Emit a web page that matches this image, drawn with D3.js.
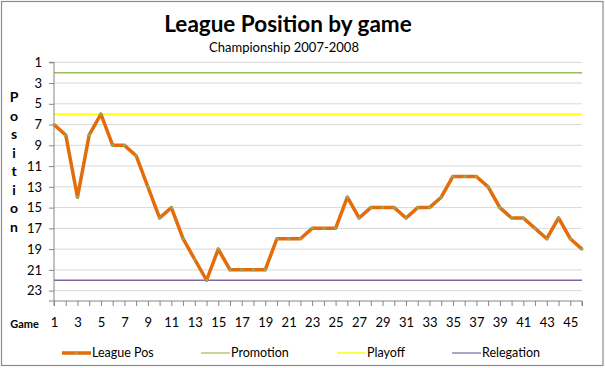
<!DOCTYPE html>
<html><head><meta charset="utf-8">
<script src="https://cdn.jsdelivr.net/npm/d3@7/dist/d3.min.js"></script>
<style>body{margin:0;background:#fff}svg{display:block}text{font-family:Lato,"Open Sans",sans-serif}</style>
</head><body>
<svg id="c" width="605" height="368"></svg>
<script>
const games = d3.range(1, 47);
const leaguePos = [7,8,14,8,6,9,9,10,13,16,15,18,20,22,19,21,21,21,21,18,18,18,17,17,17,14,16,15,15,15,16,15,15,14,12,12,12,13,15,16,16,17,18,16,18,19];
const promotion = 2, playoff = 6, relegation = 22;
const yTicks = [1,3,5,7,9,11,13,15,17,19,21,23];
const xTickLabels = d3.range(1, 47, 2);
const legendItems = ["League Pos","Promotion","Playoff","Relegation"];

const svg = d3.select("#c");
const L = 54, R = 582, T = 62.3, B = 301;
const x = d3.scaleLinear().domain([1,46]).range([L,R]);
const y = d3.scaleLinear().domain([1,24]).range([T,B]);

svg.append("rect").attr("x",1.5).attr("y",1.5).attr("width",601.5).attr("height",364).attr("fill","#fff").attr("stroke","#8c8c8c").attr("stroke-width",1.2);

svg.append("text").attr("x",288).attr("y",32).attr("text-anchor","middle").attr("font-size",22.5).attr("font-weight","bold").text("League Position by game");
svg.append("text").attr("x",284).attr("y",52).attr("text-anchor","middle").attr("font-size",13).text("Championship 2007-2008");

// gridlines
svg.append("g").selectAll("line").data(yTicks).join("line")
  .attr("x1",L).attr("x2",R).attr("y1",d=>y(d)).attr("y2",d=>y(d)).attr("stroke","#d9d9d9").attr("stroke-width",1);

// reference lines
const refs = [[promotion,"#9bbb59"],[playoff,"#ffff00"],[relegation,"#8064a2"]];
svg.append("g").selectAll("line").data(refs).join("line")
  .attr("x1",L).attr("x2",R).attr("y1",d=>y(d[0])).attr("y2",d=>y(d[0])).attr("stroke",d=>d[1]).attr("stroke-width",1.5);

// y axis
const yAxis = d3.axisLeft(y).tickValues(yTicks).tickSize(5).tickPadding(7);
const ya = svg.append("g").attr("transform",`translate(${L},0)`).call(yAxis);
ya.select(".domain").attr("stroke","#868686").attr("d",`M-5,${T}H0V${B}H-5`);
ya.selectAll(".tick line").attr("stroke","#868686");
ya.selectAll("text").attr("font-size",13).attr("fill","#000").style("font-family","Lato,sans-serif");

// x axis
const xAxis = d3.axisBottom(x).tickValues(games).tickSize(5).tickPadding(12).tickFormat(d=> xTickLabels.includes(d) ? d : "");
const xa = svg.append("g").attr("transform",`translate(0,${B})`).call(xAxis);
xa.select(".domain").attr("stroke","#868686").attr("d",`M${L},5V0H${R}V5`);
xa.selectAll(".tick line").attr("stroke","#868686");
xa.selectAll("text").attr("font-size",13).attr("fill","#000").style("font-family","Lato,sans-serif");

// axis titles
const letters = "Position".split("");
svg.append("g").selectAll("text").data(letters).join("text")
  .attr("x",14).attr("y",(d,i)=>102 + i*18.5).attr("text-anchor","middle").attr("font-size",14).attr("font-weight","bold").text(d=>d);
svg.append("text").attr("x",24.5).attr("y",328).attr("text-anchor","middle").attr("font-size",11).attr("font-weight","bold").text("Game");

// series line
const line = d3.line().x((d,i)=>x(games[i])).y(d=>y(d));
svg.append("path").datum(leaguePos).attr("d",line).attr("fill","none").attr("stroke","#e46c0a").attr("stroke-width",3.5).attr("stroke-linejoin","round");
svg.append("g").selectAll("circle").data(leaguePos).join("circle")
  .attr("cx",(d,i)=>x(games[i])).attr("cy",d=>y(d)).attr("r",1.6).attr("fill","#8fa86a");

// legend
const lx = [62,201,337,452];
const lcol = ["#e46c0a","#9bbb59","#ffff00","#8064a2"];
const lw = [3.5,1.2,1.5,1.2];
const lg = svg.append("g");
legendItems.forEach((t,i)=>{
  lg.append("line").attr("x1",lx[i]).attr("x2",lx[i]+29).attr("y1",353).attr("y2",353).attr("stroke",lcol[i]).attr("stroke-width",lw[i]);
  if(i===0) lg.append("circle").attr("cx",lx[i]+14.5).attr("cy",353).attr("r",1.6).attr("fill","#8fa86a");
  lg.append("text").attr("x",lx[i]+30).attr("y",357).attr("font-size",12.5).text(t);
});
</script>
</body></html>
